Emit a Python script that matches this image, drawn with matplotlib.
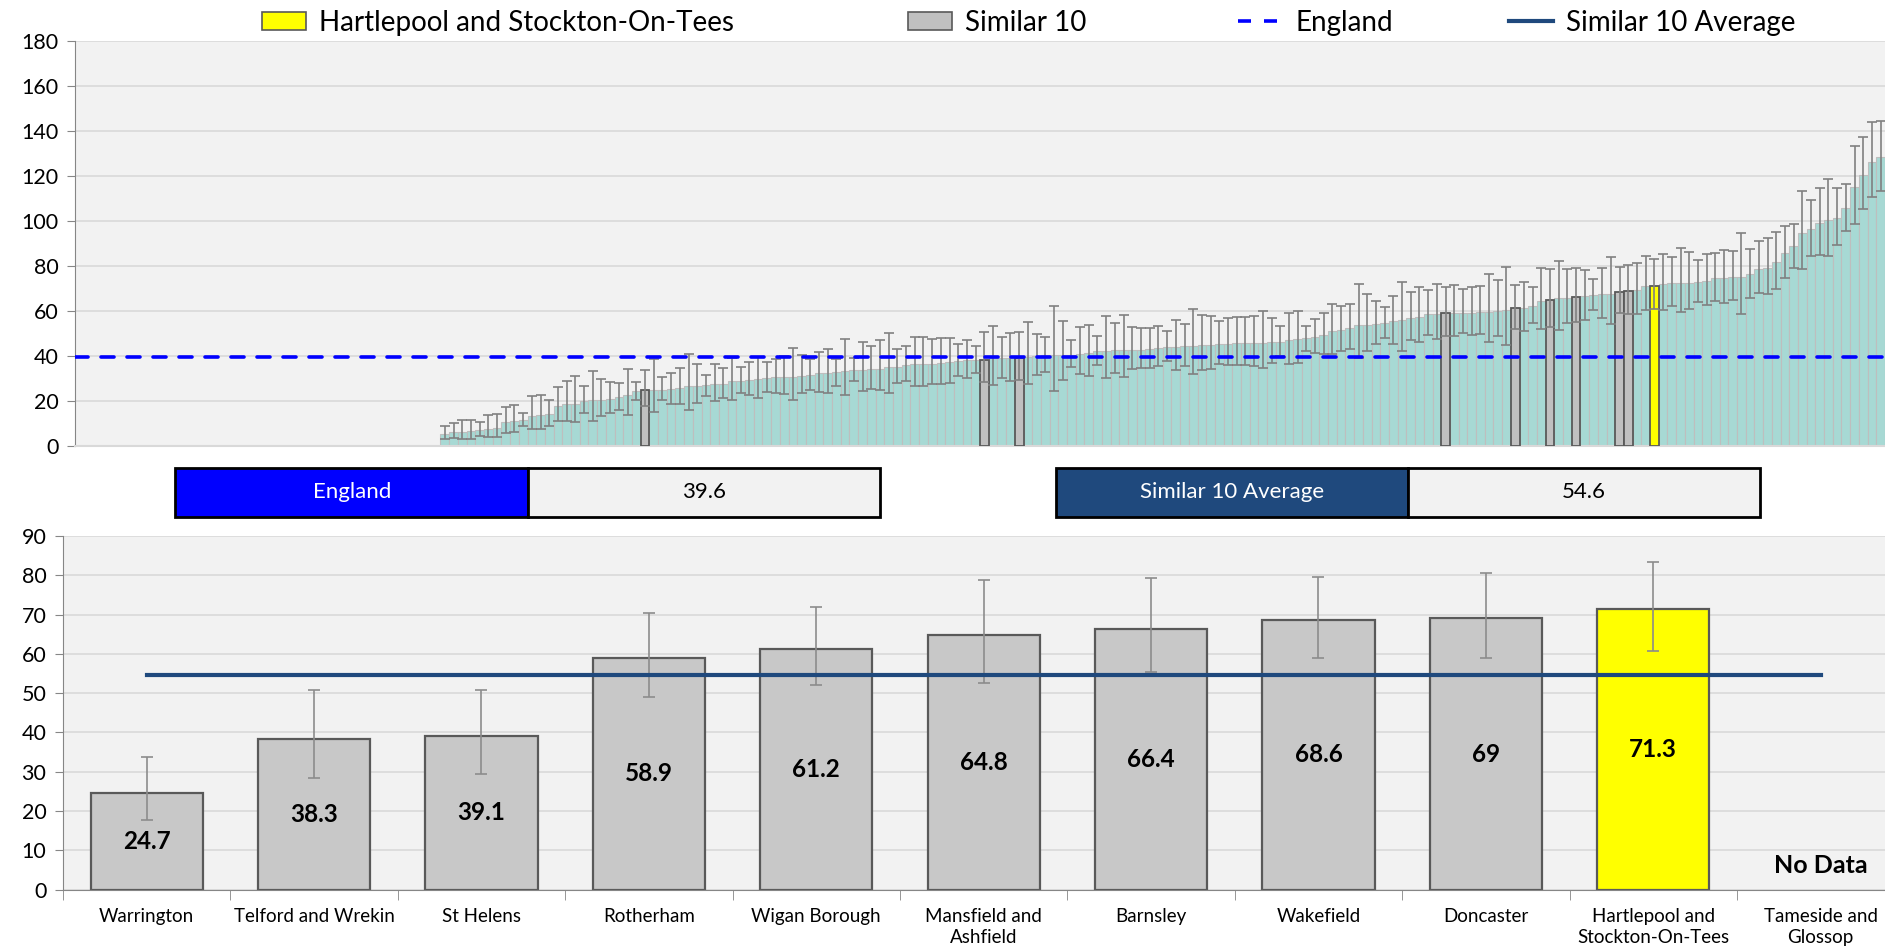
import numpy as np
import matplotlib
matplotlib.use("Agg")
import matplotlib.pyplot as plt
from matplotlib.patches import Rectangle, Patch
from matplotlib.lines import Line2D

plt.rcParams['font.family'] = ['Lato', 'DejaVu Sans']

# national ranking (areas with data, sorted), value with lower / upper CI
n_no_data = 42
national_values = [
    5.5, 6.1, 6.4, 6.5, 7.0, 7.7, 7.9, 10.5, 11.1, 11.7,
    13.5, 13.9, 14.1, 17.6, 18.8, 18.8, 20.0, 20.3, 20.6, 21.0,
    21.6, 22.5, 24.3, 24.7, 24.9, 25.0, 25.5, 26.0, 26.5, 26.8,
    27.1, 27.4, 27.4, 28.7, 29.0, 29.3, 29.6, 30.4, 30.5, 30.7,
    30.8, 31.3, 31.7, 32.3, 32.3, 32.7, 33.2, 33.8, 33.9, 34.1,
    34.4, 35.1, 35.3, 36.0, 36.3, 36.5, 36.6, 37.0, 37.3, 37.9,
    38.2, 38.3, 38.3, 39.1, 39.1, 39.1, 39.1, 39.6, 39.9, 40.3,
    40.3, 40.6, 40.6, 41.0, 41.3, 42.2, 42.4, 42.5, 42.7, 42.8,
    42.8, 43.1, 43.4, 44.0, 44.1, 44.4, 44.6, 44.7, 44.9, 45.5,
    45.5, 45.6, 45.8, 45.8, 45.9, 46.1, 46.4, 47.0, 47.7, 48.0,
    48.6, 49.5, 51.1, 51.4, 52.4, 53.6, 53.8, 54.4, 54.7, 55.4,
    56.1, 57.0, 57.5, 58.7, 58.8, 58.9, 59.1, 59.1, 59.3, 59.6,
    59.7, 60.0, 60.6, 61.2, 61.5, 62.4, 64.3, 64.8, 65.8, 65.9,
    66.4, 66.5, 67.0, 67.4, 67.7, 68.6, 69.0, 69.5, 71.0, 71.3,
    72.1, 72.6, 72.6, 72.6, 73.0, 73.3, 74.5, 74.8, 75.1, 75.1,
    76.3, 78.8, 79.3, 81.6, 85.6, 88.7, 94.7, 96.3, 99.0, 100.6,
    101.3, 105.8, 115.0, 120.6, 126.4, 128.3,
]
national_lower = [
    3.0, 3.6, 3.0, 3.0, 4.4, 3.9, 3.9, 5.9, 6.2, 8.9,
    7.6, 7.6, 9.0, 11.3, 11.3, 10.5, 14.7, 11.3, 13.2, 14.7,
    16.1, 13.6, 20.6, 17.9, 15.1, 20.3, 18.8, 18.8, 16.1, 19.1,
    22.1, 19.9, 21.3, 20.4, 23.6, 22.7, 21.2, 23.9, 23.4, 23.1,
    20.6, 23.4, 25.0, 24.1, 23.6, 26.8, 22.7, 28.7, 24.3, 25.5,
    24.7, 23.7, 28.1, 28.9, 26.5, 26.7, 27.4, 27.7, 28.1, 31.3,
    30.1, 32.3, 28.5, 27.0, 30.4, 29.0, 29.4, 27.7, 31.6, 33.0,
    24.6, 29.2, 35.1, 31.9, 31.3, 36.0, 30.2, 32.6, 30.7, 34.1,
    34.7, 34.8, 35.4, 37.9, 33.9, 35.7, 31.9, 33.6, 34.4, 36.6,
    35.9, 36.0, 36.1, 35.7, 34.7, 36.9, 40.1, 36.6, 36.9, 42.4,
    41.3, 40.7, 40.7, 42.1, 43.1, 39.3, 42.4, 45.5, 48.1, 45.5,
    42.2, 47.0, 46.2, 49.2, 47.6, 48.9, 48.7, 50.2, 49.5, 49.6,
    46.1, 48.7, 44.9, 52.0, 51.0, 54.7, 51.9, 52.7, 51.7, 54.8,
    55.3, 56.0, 60.3, 57.0, 54.1, 59.1, 58.8, 58.8, 60.3, 60.7,
    60.6, 62.2, 59.4, 60.7, 64.1, 62.5, 64.4, 63.7, 64.7, 58.5,
    65.8, 68.1, 67.7, 69.6, 74.7, 79.3, 78.5, 84.4, 85.0, 84.6,
    89.3, 95.6, 98.5, 105.5, 110.5, 113.5,
]
national_upper = [
    8.9, 10.1, 11.6, 11.7, 10.7, 13.8, 14.2, 17.5, 18.2, 14.8,
    22.2, 22.8, 20.6, 26.1, 28.9, 31.1, 26.5, 33.3, 29.9, 28.3,
    28.0, 34.4, 28.4, 33.7, 38.5, 30.7, 32.4, 34.7, 40.7, 36.3,
    31.6, 36.4, 34.5, 39.0, 35.0, 37.3, 39.6, 37.5, 38.7, 40.1,
    43.7, 40.3, 38.7, 41.9, 43.3, 38.5, 47.6, 39.3, 46.1, 44.3,
    47.1, 50.1, 43.3, 44.4, 48.4, 48.6, 47.4, 47.9, 47.9, 45.3,
    47.1, 44.4, 50.6, 53.5, 48.3, 50.2, 50.8, 55.3, 49.9, 48.3,
    62.1, 55.6, 47.3, 52.7, 53.8, 49.0, 57.6, 54.7, 58.1, 52.7,
    52.3, 52.6, 53.3, 51.1, 56.1, 54.2, 60.7, 58.2, 57.6, 55.7,
    56.9, 57.2, 57.3, 57.8, 60.0, 57.0, 53.2, 59.3, 60.0, 53.3,
    56.4, 59.1, 63.3, 62.2, 63.0, 71.9, 67.6, 64.4, 61.8, 66.5,
    73.0, 68.4, 70.8, 69.3, 71.9, 70.5, 71.4, 69.6, 70.7, 71.0,
    76.3, 73.6, 79.7, 71.6, 72.9, 70.5, 79.1, 78.7, 82.4, 78.5,
    79.1, 78.1, 74.2, 79.3, 83.9, 79.6, 80.3, 81.3, 84.3, 83.2,
    85.3, 84.0, 88.0, 86.2, 82.5, 85.3, 85.6, 87.0, 86.5, 94.8,
    87.6, 91.0, 92.6, 95.1, 97.8, 98.8, 113.2, 109.5, 114.5, 118.7,
    114.7, 116.4, 133.3, 137.2, 143.9, 144.3,
]

# comparator group
areas = ["Warrington", "Telford and Wrekin", "St Helens", "Rotherham", "Wigan Borough",
         "Mansfield and\nAshfield", "Barnsley", "Wakefield", "Doncaster",
         "Hartlepool and\nStockton-On-Tees", "Tameside and\nGlossop"]
area_values = [24.7, 38.3, 39.1, 58.9, 61.2, 64.8, 66.4, 68.6, 69.0, 71.3, np.nan]
area_lower = [17.7, 28.5, 29.5, 48.9, 52.0, 52.6, 55.5, 59.0, 58.9, 60.8, np.nan]
area_upper = [33.7, 50.7, 50.9, 70.5, 71.8, 78.7, 79.2, 79.5, 80.5, 83.3, np.nan]
area_rank = [24, 63, 67, 116, 124, 128, 131, 136, 137, 140, None]
selected = "Hartlepool and\nStockton-On-Tees"
england_value = 39.6
similar_avg = 54.6

TEAL = "#A7D9D4"
GREY = "#C0C0C0"
YELLOW = "#FFFF00"
BG = "#F2F2F2"
GRID = "#D9D9D9"
AXIS = "#868686"
NAVY = "#1F497D"

fig = plt.figure(figsize=(18.85, 9.51), dpi=100)

# ---------- top chart: all areas ranked ----------
ax1 = fig.add_axes([0.0398, 0.531, 0.9602, 0.426])
ax1.set_facecolor(BG)
vals = np.array(national_values)
lo = np.array(national_lower)
hi = np.array(national_upper)
x = np.arange(len(vals)) + n_no_data
ax1.bar(x, vals, width=1.0, color=TEAL, edgecolor="#BEBEBE", linewidth=0.8, zorder=2)

for name, r in zip(areas, area_rank):
    if r is None:
        continue
    c = YELLOW if name == selected else GREY
    ax1.bar(x[r - 1], vals[r - 1], width=1.0, color=c, edgecolor="#595959",
            linewidth=1.3, zorder=3)

ax1.errorbar(x, vals, yerr=[vals - lo, hi - vals], fmt="none", ecolor="#808080",
             elinewidth=1.2, capsize=3.5, capthick=1.2, zorder=4)
ax1.axhline(england_value, color="#0000FF", lw=2.6, dashes=(3.6, 3.6),
            dash_capstyle="round", zorder=5)

ax1.set_xlim(-0.5, n_no_data + len(vals) - 0.5)
ax1.set_ylim(0, 180)
ax1.set_yticks(range(0, 181, 20))
ax1.set_xticks([])
ax1.grid(axis="y", color=GRID, lw=1.2, zorder=0)
ax1.set_axisbelow(True)
for s in ["top", "right"]:
    ax1.spines[s].set_visible(False)
ax1.spines["left"].set_color(AXIS)
ax1.spines["bottom"].set_color(GRID)
ax1.spines["bottom"].set_linewidth(1.5)
ax1.tick_params(axis="y", labelsize=15.5, color=AXIS, length=6, pad=6)

# ---------- legend ----------
leg_items = [
    (Patch(facecolor=YELLOW, edgecolor="#595959", lw=1.2), "Hartlepool and Stockton-On-Tees", 0.139),
    (Patch(facecolor=GREY, edgecolor="#595959", lw=1.2), "Similar 10", 0.4815),
    (Line2D([], [], color="#0000FF", lw=2.6, dashes=(3.6, 3.6)), "England", 0.657),
    (Line2D([], [], color=NAVY, lw=3), "Similar 10 Average", 0.8004),
]
for h, lab, xpos in leg_items:
    fig.legend([h], [lab], loc="center left", bbox_to_anchor=(xpos, 0.976),
               frameon=False, fontsize=20, borderpad=0, borderaxespad=0,
               handlelength=1.6, handleheight=0.65, handletextpad=0.45)

# ---------- summary boxes ----------
def box(x0, xm, x1, label, value, colour):
    y0, h = 0.4564, 0.0518
    fig.add_artist(Rectangle((x0, y0), xm - x0, h, transform=fig.transFigure,
                             facecolor=colour, edgecolor="black", lw=2))
    fig.add_artist(Rectangle((xm, y0), x1 - xm, h, transform=fig.transFigure,
                             facecolor=BG, edgecolor="black", lw=2))
    fig.text((x0 + xm) / 2, y0 + h / 2, label, color="white", fontsize=16,
             ha="center", va="center")
    fig.text((xm + x1) / 2, y0 + h / 2, value, color="black", fontsize=16,
             ha="center", va="center")

box(0.0931, 0.2801, 0.4668, "England", f"{england_value}", "#0000FF")
box(0.5600, 0.7469, 0.9337, "Similar 10 Average", f"{similar_avg}", NAVY)

# ---------- bottom chart: comparator group ----------
# last category runs past the right edge of the picture, as in the original
ax2 = fig.add_axes([0.0334, 0.0646, 0.9769, 0.3718])
ax2.set_facecolor(BG)
xb = np.arange(len(areas))
av = np.array(area_values)
ok = ~np.isnan(av)
colours = [YELLOW if a == selected else "#C8C8C8" for a in areas]
ax2.bar(xb[ok], av[ok], width=0.67, color=np.array(colours)[ok], edgecolor="#595959",
        linewidth=1.6, zorder=2)
ax2.errorbar(xb[ok], av[ok],
             yerr=[av[ok] - np.array(area_lower)[ok], np.array(area_upper)[ok] - av[ok]],
             fmt="none", ecolor="#8C8C8C", elinewidth=1.2, capsize=4, capthick=1.2, zorder=3)
ax2.plot([xb[0], xb[-1]], [similar_avg, similar_avg], color=NAVY, lw=3, zorder=4)

for xi, v in zip(xb, av):
    if np.isnan(v):
        ax2.text(xi, 6.1, "No Data", ha="center", va="center",
                 fontsize=18, fontweight="bold")
    else:
        ax2.text(xi, v / 2, f"{v:g}", ha="center", va="center",
                 fontsize=17.5, fontweight="bold", zorder=5)

ax2.set_xlim(-0.5, len(areas) - 0.5)
ax2.set_ylim(0, 90)
ax2.set_yticks(range(0, 91, 10))
ax2.set_xticks(xb)
ax2.set_xticklabels(areas, fontsize=13.5, linespacing=1.3)
ax2.set_xticks(np.arange(len(areas) + 1) - 0.5, minor=True)
ax2.tick_params(axis="x", which="major", length=0, pad=13)
ax2.tick_params(axis="x", which="minor", length=7, color=AXIS)
ax2.tick_params(axis="y", labelsize=15.5, color=AXIS, length=6, pad=6)
ax2.grid(axis="y", color=GRID, lw=1.2, zorder=0)
ax2.set_axisbelow(True)
for s in ["top", "right"]:
    ax2.spines[s].set_visible(False)
ax2.spines["left"].set_color(AXIS)
ax2.spines["bottom"].set_color(AXIS)

fig.savefig("out.png", dpi=100)
